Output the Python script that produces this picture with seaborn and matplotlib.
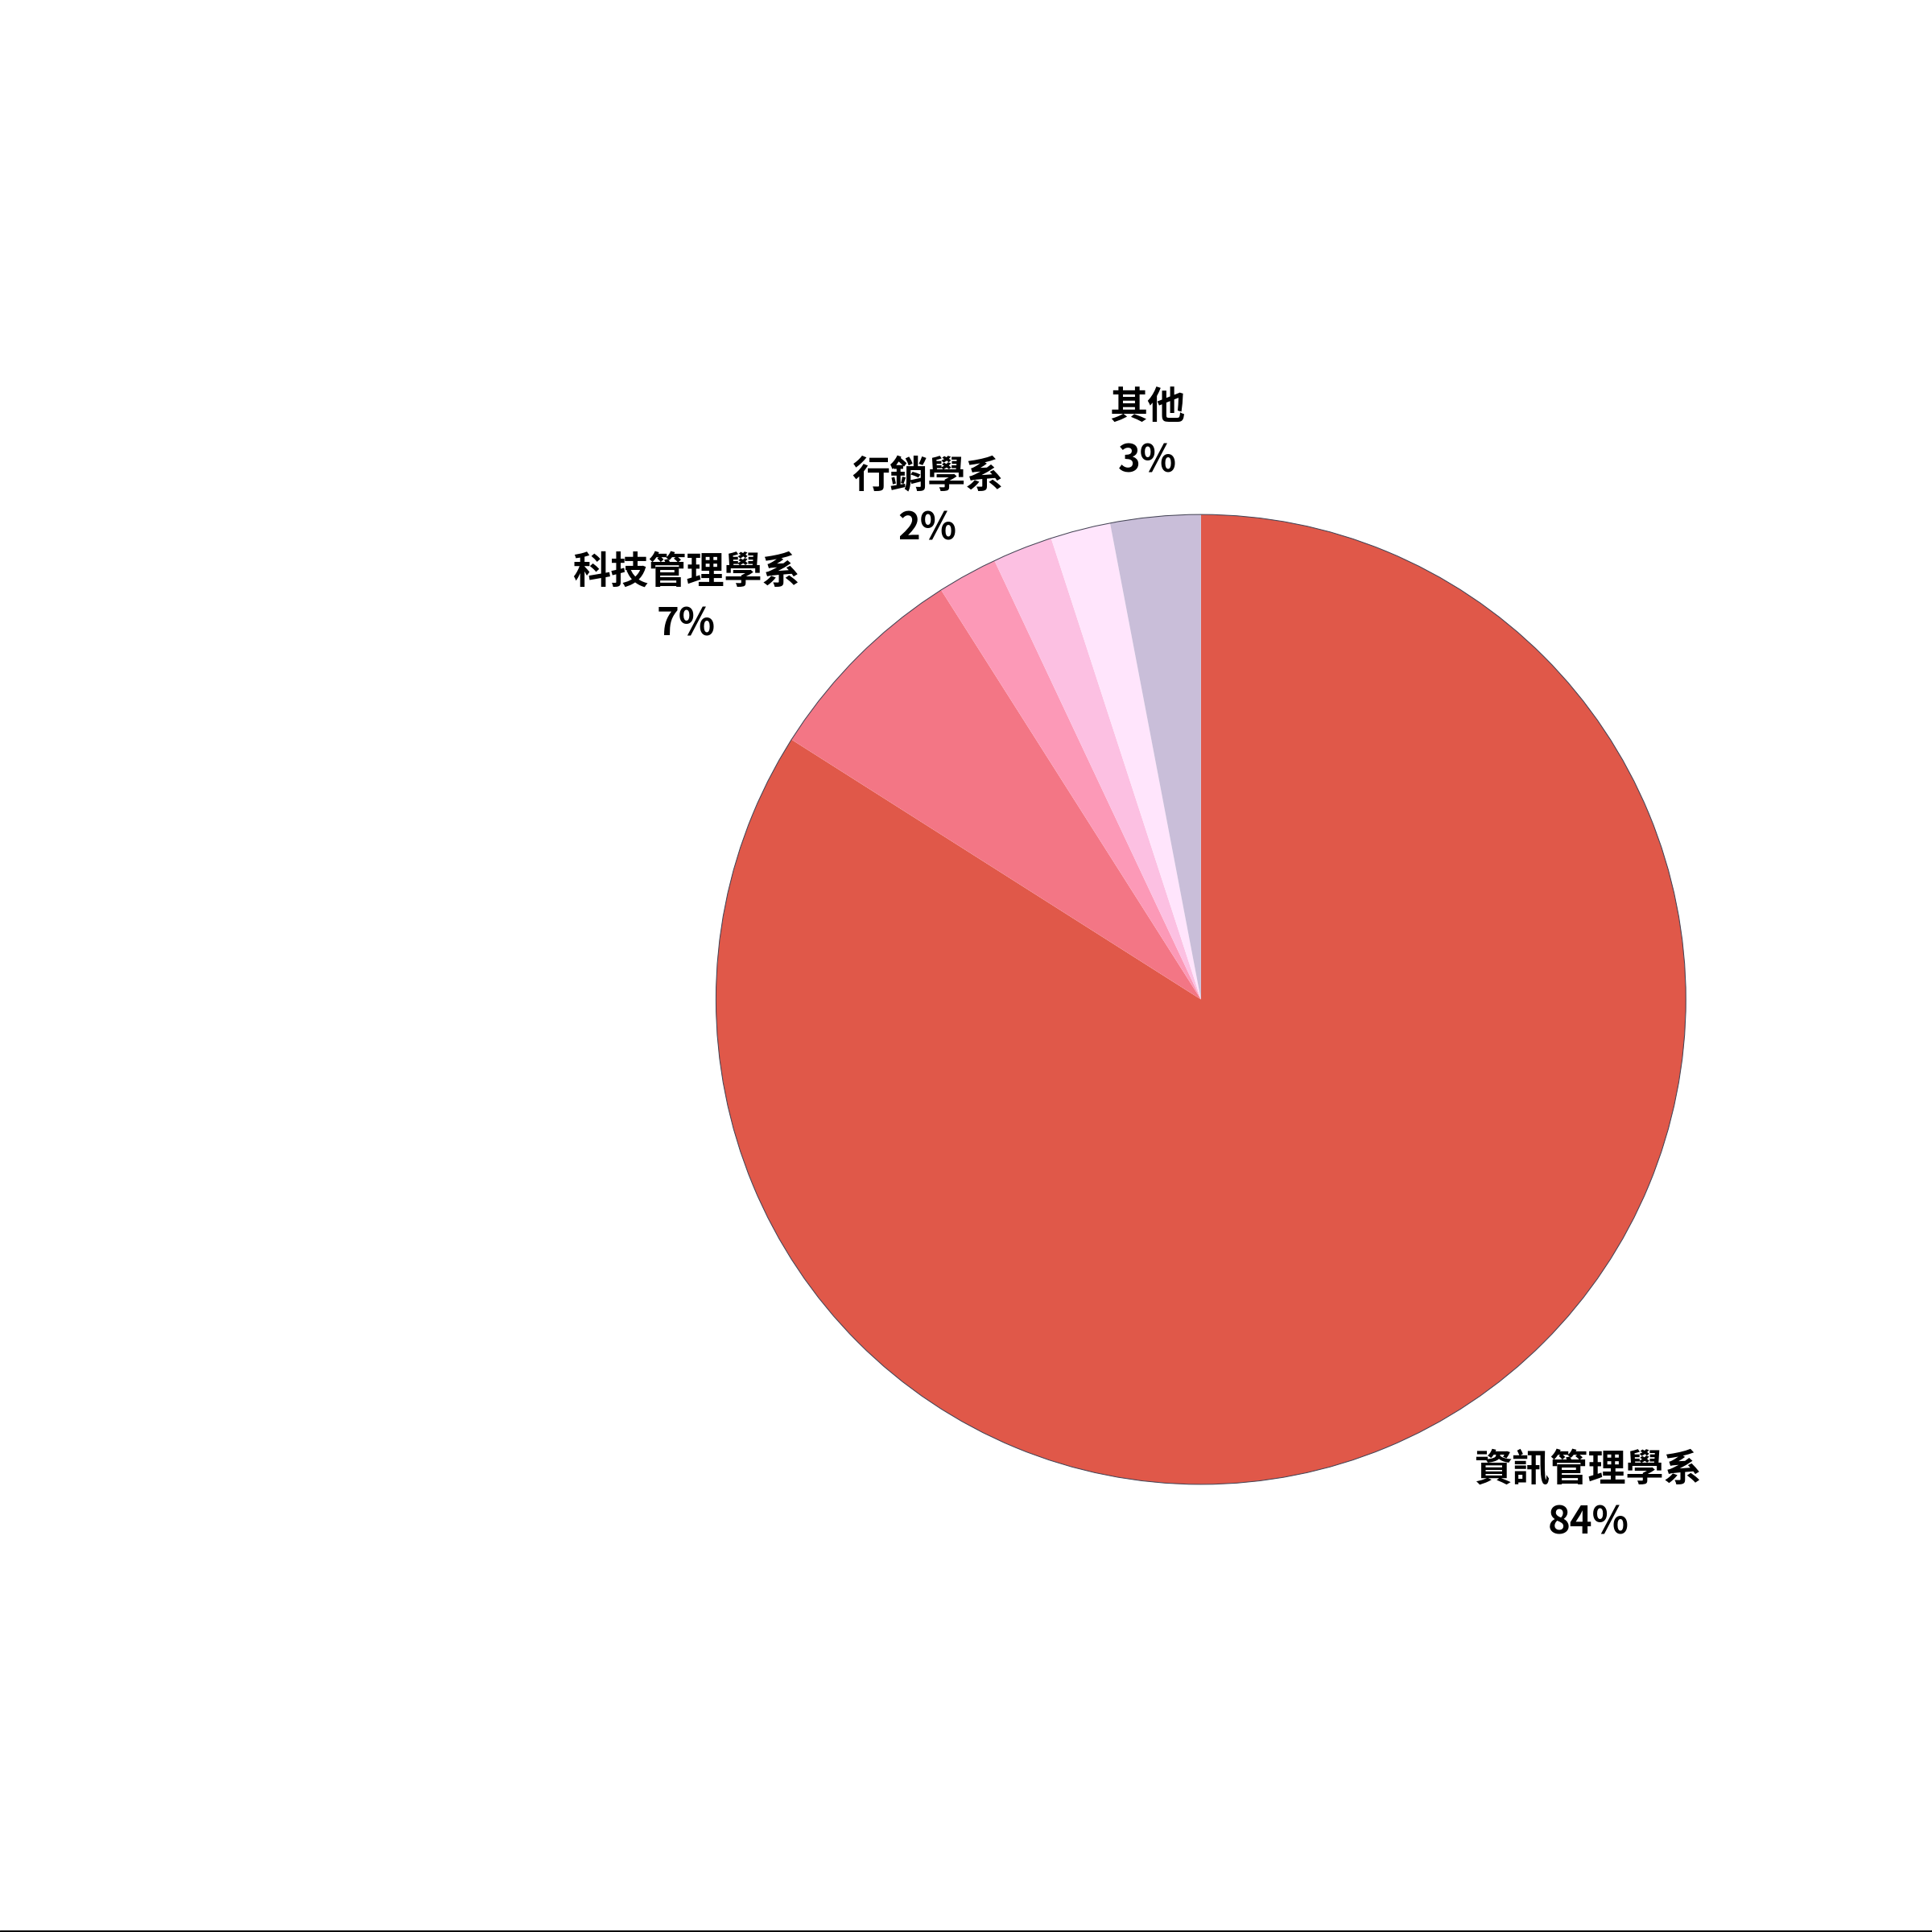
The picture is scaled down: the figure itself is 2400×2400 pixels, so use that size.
import numpy as np
import matplotlib
matplotlib.use('Agg')
import matplotlib.pyplot as plt
import seaborn as sns
from matplotlib.lines import Line2D

sns.set_theme(style='white')
plt.rcParams['font.family'] = ['Noto Sans CJK TC', 'DejaVu Sans']

# datos del grafico
departments = ['資訊管理學系', '科技管理學系', '行銷學系', '', '', '其他']
values = [84, 7, 2, 2, 2, 3]
colors = ['#E05849', '#F37685', '#FC99B7', '#FCC0E2', '#FFE5FC', '#C9BED9']

fig = plt.figure(figsize=(8, 8), dpi=300)
ax = fig.add_axes([0.3706, 0.2317, 0.502, 0.502])

wedges, _ = ax.pie(values, colors=colors, startangle=90, counterclock=False,
                   wedgeprops=dict(linewidth=0))
# contorno fino del circulo
ax.pie([1], wedgeprops=dict(fill=False, edgecolor='#444455', linewidth=0.25))
ax.set_xlim(-1, 1)
ax.set_ylim(-1, 1)
ax.set_aspect('equal')
ax.axis('off')

total = sum(values)
for w, name, v in zip(wedges, departments, values):
    if name == '':
        continue
    ang = np.deg2rad((w.theta1 + w.theta2) / 2)
    x, y = 1.17 * np.cos(ang), 1.17 * np.sin(ang)
    if np.sin(ang) > 0.8:
        ha = 'center'
    elif x > 0:
        ha = 'left'
    else:
        ha = 'right'
    ax.text(x, y, '{}\n{:.0f}%'.format(name, v / total * 100), ha=ha, va='center',
            multialignment='center', fontsize=11.3, fontweight='bold',
            color='black', linespacing=1.45)

# linea inferior
fig.add_artist(Line2D([0, 1], [0.0006, 0.0006], transform=fig.transFigure,
                      color='black', linewidth=0.7))

fig.savefig('out.png', dpi=300)
